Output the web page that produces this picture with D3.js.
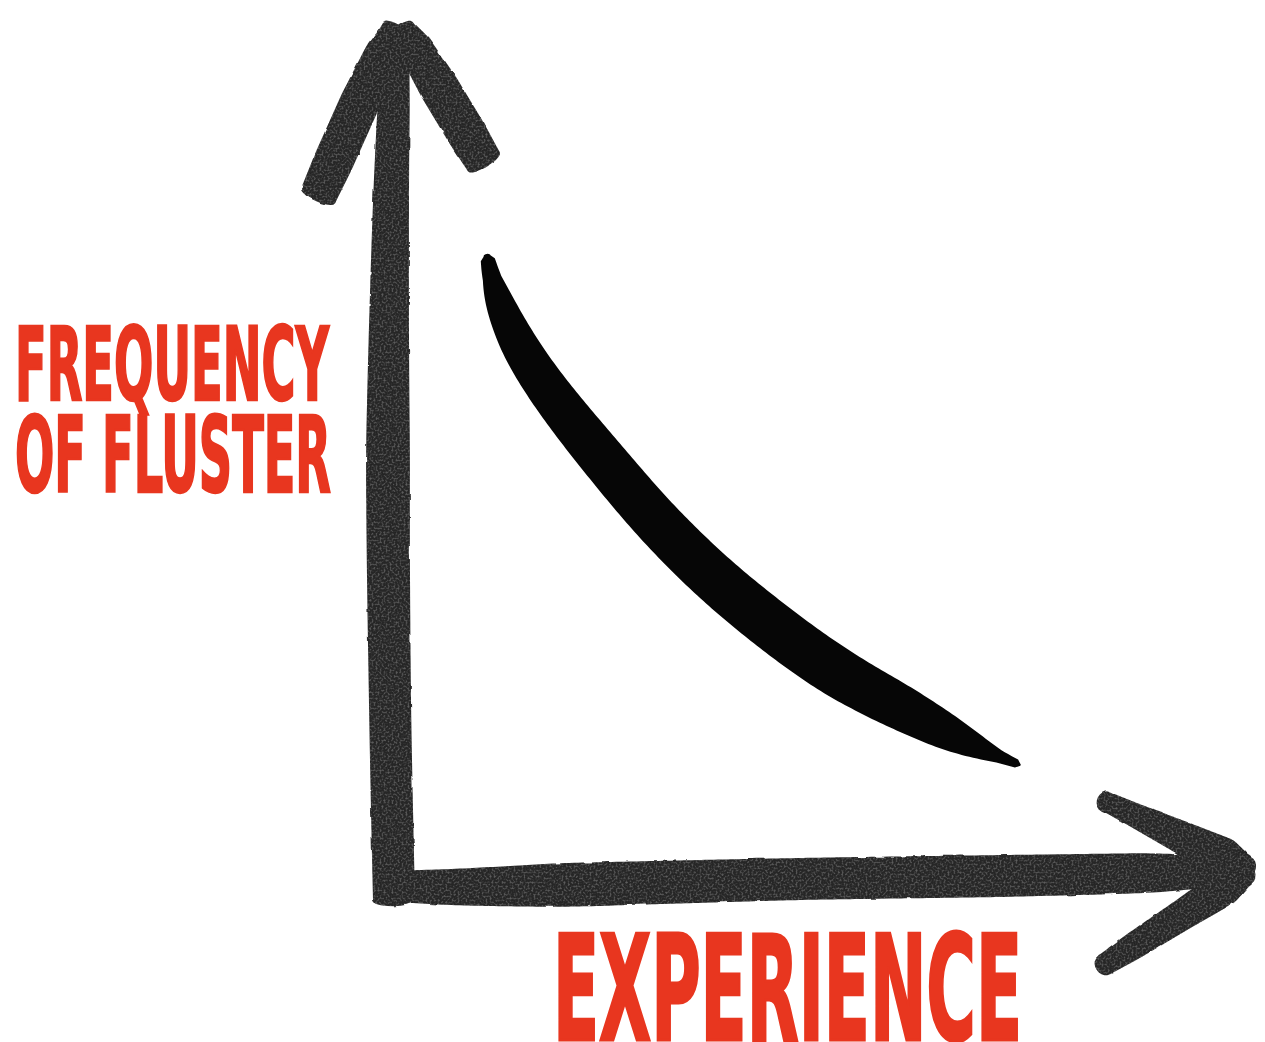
<!DOCTYPE html>
<html>
<head>
<meta charset="utf-8">
<script src="https://cdn.jsdelivr.net/npm/d3@7"></script>
<style>
  html, body { margin: 0; padding: 0; background: #ffffff; }
  svg { display: block; }
</style>
</head>
<body>
<div id="chart"></div>
<script>
// ---------------- DATA ----------------
// Experience (x) and frequency of fluster (y) (0..100 units)
const experience = [10.87, 11.68, 14.10, 17.46, 21.04, 24.86, 29.13, 33.18, 37.80, 43.58, 51.10, 58.61, 64.39, 69.02, 72.49];
const fluster    = [72.05, 68.16, 62.43, 57.27, 52.69, 48.11, 43.07, 38.83, 34.48, 29.78, 24.28, 20.39, 17.30, 15.12, 13.75];
const yLabelLines = ["FREQUENCY", "OF FLUSTER"];
const xLabel = "EXPERIENCE";
const xDomain = [0, 100];
const yDomain = [0, 100];

// ---------------- STYLE ----------------
const W = 1265, H = 1042;
const curveBrush = [7, 26, 37, 41, 44, 46, 47, 48, 49, 50, 50, 46, 36, 18, 2];
const inkAxis = "#262626";
const inkCurve = "#060606";
const red = "#e8361f";

const svg = d3.select("#chart").append("svg")
  .attr("width", W).attr("height", H);

// ink filter for the brush-drawn axes
const defs = svg.append("defs");
const f = defs.append("filter").attr("id", "ink")
  .attr("x", "-5%").attr("y", "-5%").attr("width", "110%").attr("height", "110%");
f.append("feTurbulence").attr("type", "fractalNoise").attr("baseFrequency", 0.06)
  .attr("numOctaves", 3).attr("seed", 3).attr("result", "n");
f.append("feDisplacementMap").attr("in", "SourceGraphic").attr("in2", "n")
  .attr("scale", 2.5).attr("xChannelSelector", "R").attr("yChannelSelector", "G").attr("result", "d");
f.append("feTurbulence").attr("type", "fractalNoise").attr("baseFrequency", 0.5)
  .attr("numOctaves", 2).attr("seed", 8).attr("result", "grain");
f.append("feColorMatrix").attr("in", "grain").attr("type", "matrix")
  .attr("values", "0 0 0 0 0.38  0 0 0 0 0.38  0 0 0 0 0.38  0 0 0 0.7 -0.32").attr("result", "g");
f.append("feComposite").attr("in", "g").attr("in2", "d").attr("operator", "in").attr("result", "gi");
const fm = f.append("feMerge");
fm.append("feMergeNode").attr("in", "d");
fm.append("feMergeNode").attr("in", "gi");

// ---------------- SCALES ----------------
const x = d3.scaleLinear().domain(xDomain).range([393, 1258]);
const y = d3.scaleLinear().domain(yDomain).range([885, 12]);

// brush outline: smooth centre line + interpolated widths -> closed outline with rounded caps
function brushOutline(pts, widths, capRound, curveFactory) {
  const tmp = svg.append("path").attr("fill", "none")
    .attr("d", d3.line().curve(curveFactory || d3.curveCatmullRom.alpha(0.5))(pts));
  const node = tmp.node();
  const L = node.getTotalLength();
  const cum = [0];
  for (let i = 1; i < pts.length; i++) cum.push(cum[i - 1] + Math.hypot(pts[i][0] - pts[i - 1][0], pts[i][1] - pts[i - 1][1]));
  const wScale = d3.scaleLinear().domain(cum.map(c => c / cum[cum.length - 1])).range(widths);
  const N = 200;
  const samp = d3.range(N + 1).map(k => { const p = node.getPointAtLength(L * k / N); return [p.x, p.y]; });
  tmp.remove();
  const wRaw = d3.range(N + 1).map(k => wScale(k / N));
  const wS = wRaw.map((w, k) => {
    let s = 0, c = 0;
    for (let j = -6; j <= 6; j++) { const q = k + j; if (q >= 0 && q <= N) { s += wRaw[q]; c++; } }
    return (k === 0 || k === N) ? w : s / c;
  });
  const left = [], right = [], tang = [];
  for (let k = 0; k <= N; k++) {
    const a = samp[Math.max(0, k - 2)], b = samp[Math.min(N, k + 2)];
    let tx = b[0] - a[0], ty = b[1] - a[1];
    const len = Math.hypot(tx, ty) || 1;
    tx /= len; ty /= len;
    tang.push([tx, ty]);
    const h = wS[k] / 2;
    left.push([samp[k][0] - ty * h, samp[k][1] + tx * h]);
    right.push([samp[k][0] + ty * h, samp[k][1] - tx * h]);
  }
  function cap(k, dir) {
    const [tx, ty] = tang[k];
    const h = wS[k] / 2;
    const out = [];
    for (let j = 1; j < 10; j++) {
      const ang = Math.PI * j / 10;
      const c = Math.cos(ang), s = Math.sin(ang);
      const nx = -ty * c + dir * tx * s * capRound;
      const ny = tx * c + dir * ty * s * capRound;
      out.push([samp[k][0] + nx * h, samp[k][1] + ny * h]);
    }
    return out;
  }
  const endCap = cap(N, 1);
  const sc = cap(0, -1);
  const outline = [...left, ...endCap, ...right.slice().reverse(), ...sc.slice().reverse()];
  return d3.line().curve(d3.curveLinearClosed)(outline);
}

const axisG = svg.append("g").attr("filter", "url(#ink)");

// vertical shaft (hand wobble offsets in px, widths in px)
const vShaft = [
  { v: -1.7, dx: 1,  w: 42 },
  { v: 21,   dx: -3, w: 42 },
  { v: 49.6, dx: -5, w: 44 },
  { v: 78.2, dx: -2, w: 36 },
  { v: 90,   dx: 1,  w: 32 },
  { v: 97,   dx: 4,  w: 24 }
];
axisG.append("path")
  .attr("d", brushOutline(vShaft.map(d => [x(0) + d.dx, y(d.v)]), vShaft.map(d => d.w), 0.3))
  .attr("fill", inkAxis);

// horizontal shaft
const hShaft = [
  { v: -1.6, dy: 1,   w: 30 },
  { v: 6.6,  dy: 2,   w: 36 },
  { v: 19.3, dy: 0,   w: 44 },
  { v: 47.1, dy: -6,  w: 42 },
  { v: 70.2, dy: -9,  w: 42 },
  { v: 87.5, dy: -12, w: 40 },
  { v: 96.5, dy: -14, w: 30 }
];
axisG.append("path")
  .attr("d", brushOutline(hShaft.map(d => [x(d.v), y(0) + d.dy]), hShaft.map(d => d.w), 0.25))
  .attr("fill", inkAxis);

// arrowheads: barbs drawn from the tip, end = barb end relative to tip
function barb(tip, end, startOff, widths, capRound) {
  const ts = [0, 0.15, 0.45, 0.8, 1];
  const sx = tip[0] + startOff[0], sy = tip[1] + startOff[1];
  const pts = ts.map(t => [sx + (tip[0] + end[0] - sx) * t, sy + (tip[1] + end[1] - sy) * t]);
  return brushOutline(pts, widths, capRound);
}
const vTip = [x(0) + 5, y(yDomain[1])];
axisG.append("path").attr("fill", inkAxis)
  .attr("d", barb(vTip, [-80, 184], [-4, 14], [22, 34, 40, 40, 37], 0.3));
axisG.append("path").attr("fill", inkAxis)
  .attr("d", barb(vTip, [86, 150], [4, 14], [22, 34, 40, 40, 37], 0.3));

const hTip = [x(xDomain[1]), y(0) - 14];
axisG.append("path").attr("fill", inkAxis)
  .attr("d", barb(hTip, [-153, -70], [-12, -3], [24, 40, 33, 24, 20], 0.8));
axisG.append("path").attr("fill", inkAxis)
  .attr("d", barb(hTip, [-154, 94], [-12, 3], [22, 36, 31, 27, 22], 0.8));

// ---------------- CURVE ----------------
const curvePts = experience.map((e, i) => [x(e), y(fluster[i])]);
svg.append("path")
  .attr("d", brushOutline(curvePts, curveBrush, 0.6, d3.curveBasis))
  .attr("fill", inkCurve);

// ---------------- LABELS ----------------
const fontFam = "'Liberation Sans Narrow', 'DejaVu Sans Condensed', 'Liberation Sans', sans-serif";
const yLab = [
  { size: 101, base: 400, len: 314 },
  { size: 105, base: 492, len: 316 }
];
yLabelLines.forEach((t, i) => {
  svg.append("text")
    .attr("x", 15).attr("y", yLab[i].base)
    .attr("textLength", yLab[i].len).attr("lengthAdjust", "spacingAndGlyphs")
    .attr("font-family", fontFam).attr("font-weight", "bold")
    .attr("font-size", yLab[i].size)
    .attr("fill", red).attr("stroke", red).attr("stroke-width", 2.5)
    .text(t);
});
svg.append("text")
  .attr("x", 553).attr("y", 1040)
  .attr("textLength", 469).attr("lengthAdjust", "spacingAndGlyphs")
  .attr("font-family", fontFam).attr("font-weight", "bold")
  .attr("font-size", 147)
  .attr("fill", red).attr("stroke", red).attr("stroke-width", 3)
  .text(xLabel);
</script>
</body>
</html>
